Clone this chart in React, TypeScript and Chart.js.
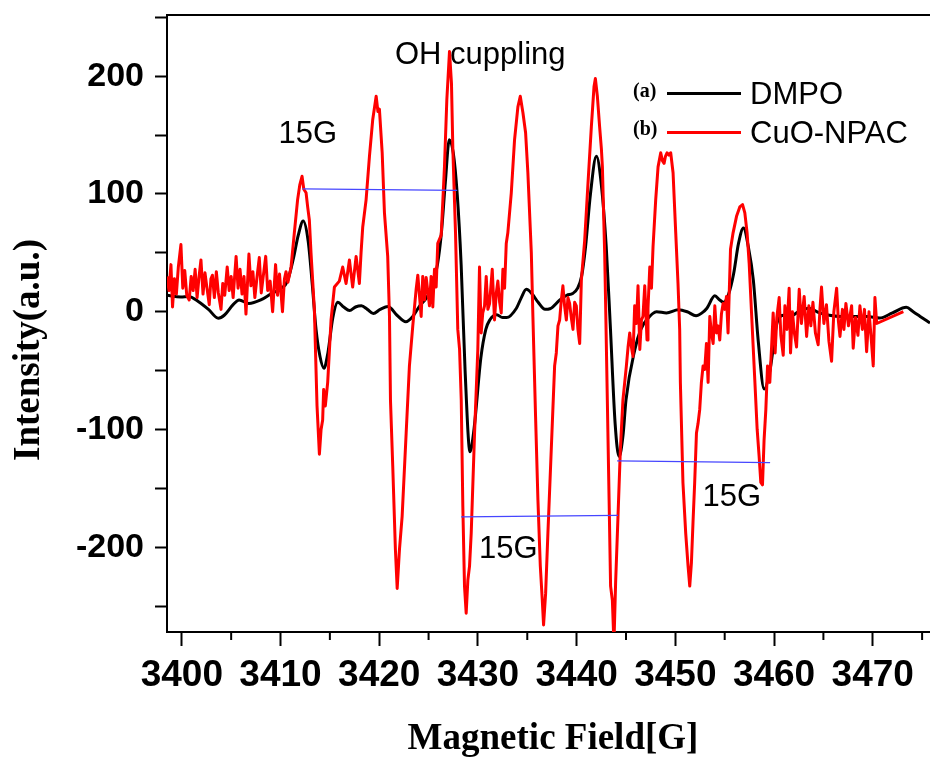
import React, { useEffect, useRef } from "react";
import { Chart, registerables } from "chart.js";

Chart.register(...registerables);

// ---------- data ----------
const dmpoField = [
  3398.5, 3399.9, 3400.7, 3401.7, 3402.7, 3403.7, 3404.3, 3405.2, 3405.8, 3406.8,
  3408.0, 3409.0, 3410.1, 3410.7, 3411.3, 3411.8, 3412.3, 3412.8, 3413.2, 3413.6,
  3414.0, 3414.4, 3414.8, 3415.3, 3415.8, 3416.4, 3417.0, 3417.6, 3418.2, 3418.8,
  3419.4, 3420.1, 3420.9, 3421.8, 3422.7, 3423.4, 3424.1, 3424.8, 3425.4, 3425.9,
  3426.3, 3426.7, 3427.1, 3427.5, 3427.9, 3428.3, 3428.7, 3429.2, 3429.6, 3430.3,
  3430.8, 3431.2, 3431.9, 3432.5, 3432.9, 3433.9, 3434.4, 3434.9, 3435.5, 3436.1,
  3436.8, 3437.3, 3438.3, 3439.0, 3439.6, 3440.1, 3440.5, 3440.9, 3441.4, 3442.0,
  3442.5, 3443.0, 3443.4, 3443.9, 3444.3, 3444.7, 3445.0, 3445.9, 3446.5, 3447.1,
  3448.1, 3449.1, 3450.3, 3451.2, 3452.1, 3452.7, 3453.2, 3454.0, 3454.5, 3454.9,
  3455.4, 3455.9, 3456.4, 3456.9, 3457.4, 3457.9, 3458.4, 3459.0, 3459.6, 3460.3,
  3461.0, 3461.6, 3462.5, 3463.5, 3464.6, 3465.6, 3466.7, 3468.0, 3469.4, 3470.7,
  3472.0, 3473.4, 3474.1, 3474.8, 3475.8,
];
const dmpoIntensity = [
  14, 12.5, 13, 8.5, 2, -5.5, -3, 6, 10, 7,
  10, 15, 20, 26, 45, 65, 77, 60, 25, -15,
  -38, -48, -35, -5, 8, 4, 1, 4, 5, 2,
  -1.5, 2, 4.5, -3, -8.5, -4, 5, 12, 22, 40,
  67, 110, 146, 135, 100, 40, -50, -119, -100, -39,
  -15, -7, -2.5, -5, -5, 3, 12, 19, 15, 8,
  2, 2.5, 10, 14, 15.5, 20, 30, 55, 100, 132,
  108, 55, -10, -95, -123, -105, -75, -32, -15, -6.8,
  0, -1, 1.7, 0, -3.5, -1, 3, 13.5, 10, 8,
  15, 32, 58, 71, 55, 27, -25, -65.6, -49, -9.6,
  -3, -4, 0, 3, -1, -3, -4, -4, -4, -5.4,
  -1, 3.7, 0, -4, -9.6,
];

const cuoField = [
  3398.5, 3398.7, 3398.9, 3399.06, 3399.25, 3399.45, 3399.65, 3399.91, 3400.1, 3400.3,
  3400.5, 3400.75, 3400.95, 3401.15, 3401.35, 3401.55, 3401.75, 3401.94, 3402.15, 3402.35,
  3402.55, 3402.78, 3402.95, 3403.1, 3403.3, 3403.5, 3403.7, 3403.97, 3404.15, 3404.35,
  3404.6, 3404.8, 3405.0, 3405.2, 3405.5, 3405.7, 3405.9, 3406.1, 3406.3, 3406.5,
  3406.8, 3407.0, 3407.2, 3407.4, 3407.6, 3407.85, 3408.05, 3408.25, 3408.5, 3408.7,
  3408.95, 3409.2, 3409.5, 3409.7, 3409.9, 3410.2, 3410.4, 3410.56, 3410.75, 3411.07,
  3411.4, 3411.73, 3411.96, 3412.18, 3412.36, 3412.59, 3412.75, 3412.92, 3413.09, 3413.43,
  3413.7, 3413.94, 3414.11, 3414.27, 3414.37, 3414.54, 3414.78, 3415.12, 3415.46, 3415.96,
  3416.3, 3416.64, 3416.98, 3417.31, 3417.66, 3417.99, 3418.16, 3418.33, 3418.67, 3419.01,
  3419.34, 3419.69, 3419.87, 3420.02, 3420.3, 3420.53, 3420.86, 3421.04, 3421.14, 3421.37,
  3421.64, 3421.82, 3422.05, 3422.32, 3422.73, 3423.06, 3423.4, 3423.74, 3423.91, 3424.25,
  3424.41, 3424.59, 3424.76, 3425.09, 3425.26, 3425.43, 3425.6, 3425.77, 3425.93, 3426.28,
  3426.61, 3426.85, 3427.12, 3427.32, 3427.46, 3427.73, 3427.96, 3428.14, 3428.31, 3428.47,
  3428.64, 3428.81, 3428.98, 3429.15, 3429.32, 3429.66, 3429.99, 3430.16, 3430.33, 3430.49,
  3430.67, 3430.84, 3431.01, 3431.18, 3431.45, 3431.68, 3431.86, 3432.02, 3432.2, 3432.36,
  3432.53, 3432.7, 3432.87, 3433.03, 3433.38, 3433.71, 3434.05, 3434.29, 3434.56, 3434.83,
  3435.06, 3435.41, 3435.57, 3435.84, 3436.08, 3436.32, 3436.52, 3436.65, 3436.86, 3437.09,
  3437.43, 3437.77, 3437.94, 3438.11, 3438.28, 3438.45, 3438.61, 3438.78, 3438.96, 3439.12,
  3439.29, 3439.46, 3439.63, 3439.8, 3439.97, 3440.13, 3440.31, 3440.48, 3440.81, 3441.15,
  3441.49, 3441.76, 3441.9, 3442.1, 3442.33, 3442.51, 3442.61, 3442.84, 3442.94, 3443.11,
  3443.29, 3443.44, 3443.62, 3443.78, 3443.95, 3444.19, 3444.43, 3444.69, 3445.04, 3445.21,
  3445.38, 3445.55, 3445.71, 3445.88, 3446.05, 3446.12, 3446.22, 3446.4, 3446.57, 3446.72,
  3446.9, 3447.13, 3447.23, 3447.41, 3447.58, 3447.74, 3448.01, 3448.25, 3448.52, 3448.7,
  3448.86, 3449.0, 3449.16, 3449.35, 3449.53, 3449.77, 3450.04, 3450.27, 3450.44, 3450.51,
  3450.77, 3451.05, 3451.29, 3451.46, 3451.63, 3451.79, 3451.96, 3452.14, 3452.3, 3452.47,
  3452.64, 3452.81, 3452.98, 3453.15, 3453.32, 3453.49, 3453.66, 3453.83, 3454.0, 3454.17,
  3454.33, 3454.5, 3454.67, 3454.84, 3455.01, 3455.18, 3455.34, 3455.59, 3455.85, 3456.2,
  3456.53, 3456.81, 3457.04, 3457.27, 3457.48, 3457.72, 3458.05, 3458.29, 3458.49, 3458.66,
  3458.83, 3458.99, 3459.17, 3459.34, 3459.57, 3459.75, 3459.91, 3460.11, 3460.28, 3460.52,
  3460.69, 3460.93, 3461.1, 3461.3, 3461.53, 3461.67, 3461.86, 3462.06, 3462.28, 3462.55,
  3462.77, 3463.05, 3463.3, 3463.53, 3463.73, 3463.94, 3464.19, 3464.47, 3464.65, 3464.81,
  3465.05, 3465.31, 3465.56, 3465.83, 3466.06, 3466.34, 3466.52, 3466.68, 3466.93, 3467.08,
  3467.28, 3467.54, 3467.86, 3468.02, 3468.25, 3468.5, 3468.7, 3468.95, 3469.16, 3469.38,
  3469.62, 3469.82, 3470.05, 3470.22, 3470.4, 3473.1,
];
const cuoIntensity = [
  30, 18, 40, 4, 28, 15, 38, 57, 20, 35,
  14, 10, 30, 18, 36, 12, 30, 44, 15, 33,
  20, 6, 28, 31, 12, 34, 16, 2, 24, 14,
  38, 18, 30, 12, 47, 20, 36, 15, 30, -2,
  49, 22, 34, 12, 28, 46, 16, 30, 47, 18,
  26, 0, 40, 14, 32, 0, 28, 34, 25, 38,
  67, 95, 108, 115, 104, 101, 89, 78, 50, 2,
  -80, -121, -100, -92, -66, -80, -60, -7, 21, 26,
  38, 24, 44, 21, 47, 24, 50, 72, 95, 132,
  163, 183, 170, 172, 135, 84, 47, -4, -75, -131,
  -202, -235, -202, -174, -103, -46, -12, 19, 31, -4,
  30, 10, 29, 5, 30, 4, 36, 21, 58, 65,
  123, 180, 221, 194, 138, 67, -15, -32, -75, -165,
  -233, -256, -228, -216, -188, -103, -32, 38, -18, -1,
  5, 30, 2, 7, 36, -7, 16, 26, 8, -1,
  36, 20, 58, 67, 101, 146, 174, 183, 169, 152,
  118, 50, -4, -89, -160, -216, -245, -266, -239, -188,
  -117, -46, -35, -12, -7, 10, 22, 5, -7, 12,
  7, -5, -15, 8, 5, -15, -27, 27, 60, 109,
  157, 191, 198, 183, 157, 138, 123, 50, 5, -75,
  -160, -233, -245, -282, -230, -174, -117, -75, -46, -30,
  -18, -30, -38, 5, -10, 2, 22, -32, -7, -4,
  22, -24, 3, 38, 20, 55, 95, 123, 135, 128,
  126, 132, 135, 133, 135, 118, 67, 24, -15, -60,
  -145, -188, -216, -233, -213, -179, -145, -103, -95, -83,
  -60, -46, -49, -27, -60, -4, -18, -27, 5, -18,
  -12, -24, -2, 7, 2, 13, -18, 53, 67, 81,
  89, 91, 84, 67, 41, -1, -58, -100, -123, -145,
  -147, -109, -83, -46, -60, -30, -1, -35, -5, 12,
  -20, -37, 5, -15, 20, -35, 0, -18, -30, 19,
  -10, 13, -21, 5, -12, 8, -18, -28, 2, 21,
  -10, 6, -25, -42, 0, 20, -8, -21, 2, -15,
  7, -12, 5, -31, -5, -20, 5, -15, 2, -34,
  0, -20, -46, 12, -10, 0,
];

// 15 G hyperfine splitting markers (start/end of each blue bar)
const splitStartField = [3412.24, 3428.3, 3444.1];
const splitEndField = [3427.9, 3444.2, 3459.6];
const splitStartIntensity = [104.4, -174.3, -126.7];
const splitEndIntensity = [103.0, -173.0, -128.1];

const xTickValues = [3400, 3410, 3420, 3430, 3440, 3450, 3460, 3470];
const xMinorTickValues = [3405, 3415, 3425, 3435, 3445, 3455, 3465, 3475];
const yTickValues = [-250, -200, -150, -100, -50, 0, 50, 100, 150, 200, 250];

const seriesNames = ["DMPO", "CuO-NPAC"];
const seriesTags = ["(a)", "(b)"];
const annotationTexts = ["OH cuppling", "15G", "15G", "15G"];
const xTitle = "Magnetic Field[G]";
const yTitle = "Intensity(a.u.)";

// ---------- drawing helpers ----------
const SANS = '"Liberation Sans", Arial, sans-serif';
const SERIF = '"Liberation Serif", "Times New Roman", serif';

// anchor of each annotation text, in data units (left / baseline)
const annotationAnchors: [number, number][] = [
  [3421.6, 210],
  [3409.8, 143.5],
  [3430.1, -208.8],
  [3452.75, -164.7],
];

const decorPlugin = {
  id: "decor",
  beforeDatasetsDraw(chart: any) {
    const { ctx, scales } = chart;
    const x = scales.x;
    const y = scales.y;
    ctx.save();
    ctx.fillStyle = "#000";
    ctx.font = `31px ${SANS}`;
    ctx.textAlign = "left";
    ctx.textBaseline = "alphabetic";
    annotationTexts.forEach((t, i) => {
      const [gx, gy] = annotationAnchors[i];
      ctx.fillText(t, x.getPixelForValue(gx), y.getPixelForValue(gy));
    });
    ctx.restore();
  },
  afterDraw(chart: any) {
    const { ctx, chartArea: a, scales } = chart;
    const x = scales.x;
    ctx.save();
    ctx.strokeStyle = "#000";
    ctx.lineWidth = 2;
    // top frame line
    ctx.beginPath();
    ctx.moveTo(a.left - 1, a.top);
    ctx.lineTo(a.right, a.top);
    ctx.stroke();
    // minor x ticks
    xMinorTickValues.forEach((v) => {
      const px = x.getPixelForValue(v);
      if (px < a.left || px > a.right) return;
      ctx.beginPath();
      ctx.moveTo(px, a.bottom);
      ctx.lineTo(px, a.bottom + 8);
      ctx.stroke();
    });
    // axis titles
    ctx.fillStyle = "#000";
    ctx.font = `bold 37px ${SERIF}`;
    ctx.textAlign = "center";
    ctx.textBaseline = "alphabetic";
    ctx.fillText(xTitle, 553, 749);
    ctx.save();
    ctx.translate(39, 350);
    ctx.rotate(-Math.PI / 2);
    ctx.fillText(yTitle, 0, 0);
    ctx.restore();
    // legend
    const ds = chart.data.datasets;
    const rows = [
      { tagY: 97, lineY: 93.5, textY: 104 },
      { tagY: 135, lineY: 132.5, textY: 143 },
    ];
    rows.forEach((r, i) => {
      ctx.textAlign = "left";
      ctx.fillStyle = "#000";
      ctx.font = `bold 20px ${SERIF}`;
      ctx.fillText(seriesTags[i], 633, r.tagY);
      ctx.strokeStyle = ds[i].borderColor;
      ctx.lineWidth = 3;
      ctx.beginPath();
      ctx.moveTo(667, r.lineY);
      ctx.lineTo(741, r.lineY);
      ctx.stroke();
      ctx.font = `31px ${SANS}`;
      ctx.fillText(seriesNames[i], 750, r.textY);
    });
    ctx.restore();
  },
};

export default function App() {
  const canvasRef = useRef<HTMLCanvasElement | null>(null);

  useEffect(() => {
    document.body.style.margin = "0";
    const canvas = canvasRef.current;
    if (!canvas) return;

    const splitSets = splitStartField.map((g, i) => ({
      label: "split" + i,
      data: [
        { x: g, y: splitStartIntensity[i] },
        { x: splitEndField[i], y: splitEndIntensity[i] },
      ],
      borderColor: "rgb(70,70,255)",
      borderWidth: 1.3,
      pointRadius: 0,
      order: 0,
    }));

    const chart = new Chart(canvas, {
      type: "line",
      data: {
        datasets: [
          {
            label: seriesNames[0],
            data: dmpoField.map((g, i) => ({ x: g, y: dmpoIntensity[i] })),
            borderColor: "#000000",
            borderWidth: 3,
            pointRadius: 0,
            cubicInterpolationMode: "monotone",
            borderJoinStyle: "round",
            order: 2,
          },
          {
            label: seriesNames[1],
            data: cuoField.map((g, i) => ({ x: g, y: cuoIntensity[i] })),
            borderColor: "#ff0000",
            borderWidth: 3,
            pointRadius: 0,
            tension: 0,
            borderJoinStyle: "round",
            order: 1,
          },
          ...splitSets,
        ] as any,
      },
      options: {
        animation: false,
        responsive: false,
        devicePixelRatio: 1,
        events: [],
        layout: { padding: { top: 15, right: 0, left: 0, bottom: 0 } },
        plugins: {
          legend: { display: false },
          tooltip: { enabled: false },
          title: { display: false },
        },
        scales: {
          x: {
            type: "linear",
            min: 3398.5,
            max: 3475.8,
            afterFit: (s: any) => {
              s.height = 126;
              s.paddingLeft = 0;
              s.paddingRight = 0;
            },
            afterBuildTicks: (s: any) => {
              s.ticks = xTickValues.map((v) => ({ value: v }));
            },
            grid: {
              drawOnChartArea: false,
              drawTicks: true,
              tickLength: 14,
              tickWidth: 2,
              tickColor: "#000",
            },
            border: { display: true, color: "#000", width: 2 },
            ticks: {
              autoSkip: false,
              maxRotation: 0,
              padding: 8,
              color: "#000",
              font: { family: SANS, size: 37, weight: "bold" },
              callback: (v: any) => String(v),
            },
          },
          y: {
            type: "linear",
            min: -272,
            max: 252,
            afterFit: (s: any) => {
              s.width = 167;
              s.paddingTop = 0;
              s.paddingBottom = 0;
            },
            afterBuildTicks: (s: any) => {
              s.ticks = yTickValues.map((v) => ({ value: v }));
            },
            grid: {
              drawOnChartArea: false,
              drawTicks: true,
              tickLength: 12,
              tickWidth: 2,
              tickColor: "#000",
            },
            border: { display: true, color: "#000", width: 2 },
            ticks: {
              autoSkip: false,
              padding: 11,
              color: "#000",
              font: { family: SANS, size: 34, weight: "bold" },
              callback: (v: any) => (Number(v) % 100 === 0 ? String(v) : ""),
            },
          },
        },
      } as any,
      plugins: [decorPlugin],
    });

    return () => {
      chart.destroy();
    };
  }, []);

  return (
    <div style={{ width: 930, height: 758, position: "relative" }}>
      <canvas ref={canvasRef} width={930} height={758} />
    </div>
  );
}
